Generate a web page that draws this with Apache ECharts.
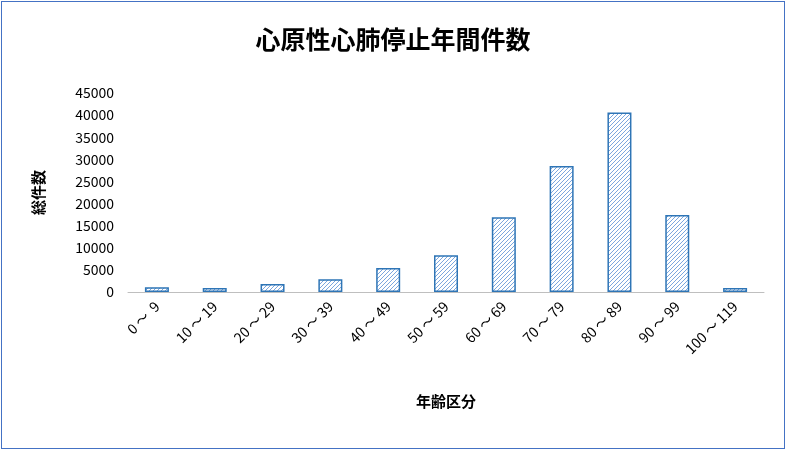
<!DOCTYPE html>
<html><head><meta charset="utf-8">
<script src="https://cdn.jsdelivr.net/npm/echarts@6/dist/echarts.min.js"></script>
<style>
html,body{margin:0;padding:0;background:#fff;}
#wrap{position:absolute;left:1px;top:1px;width:784px;height:448px;border:1px solid #4472c4;box-sizing:border-box;}
#c{width:786px;height:450px;position:absolute;left:0;top:0;}
</style></head><body>
<div id="wrap"></div>
<div id="c"></div>
<script>
const categories = ['0～ 9','10～19','20～29','30～39','40～49','50～59','60～69','70～79','80～89','90～99','100～119'];
const values = [1100, 900, 1800, 2900, 5400, 8300, 16900, 28500, 40600, 17400, 900];

const cv = document.createElement('canvas');
cv.width = 4; cv.height = 4;
const ctx = cv.getContext('2d');
ctx.fillStyle = '#fff'; ctx.fillRect(0,0,4,4);
ctx.strokeStyle = '#5b8fd6'; ctx.lineWidth = 0.8;
ctx.beginPath(); ctx.moveTo(0,4); ctx.lineTo(4,0); ctx.moveTo(-1,1); ctx.lineTo(1,-1); ctx.moveTo(3,5); ctx.lineTo(5,3); ctx.stroke();

const font = '"Noto Sans CJK JP", sans-serif';
const chart = echarts.init(document.getElementById('c'));
chart.setOption({
  animation:false,
  title:{text:'心原性心肺停止年間件数', left:'center', top:22,
    textStyle:{fontFamily:font, fontSize:25, fontWeight:'bold', color:'#000'}},
  grid:{left:128, right:22, top:93, bottom:158},
  xAxis:{type:'category', data:categories, name:'年齢区分', nameLocation:'middle', nameGap:102,
    nameTextStyle:{fontFamily:font, fontSize:15, fontWeight:'bold', color:'#000'},
    axisLine:{lineStyle:{color:'#bfbfbf'}}, axisTick:{show:false},
    axisLabel:{rotate:45, interval:0, fontFamily:font, fontSize:14, color:'#000', margin:12,
      formatter:v=>v.replace('～',' ～ ')}},
  yAxis:{type:'value', min:0, max:45000, interval:5000, name:'総件数', nameLocation:'middle', nameGap:82,
    nameRotate:90,
    nameTextStyle:{fontFamily:font, fontSize:15, fontWeight:'bold', color:'#000'},
    splitLine:{show:false}, axisLine:{show:false}, axisTick:{show:false},
    axisLabel:{fontFamily:font, fontSize:14, color:'#000', margin:14, formatter:v=>String(v)}},
  series:[{type:'bar', data:values, barWidth:24,
    itemStyle:{color:{image:cv, repeat:'repeat'}, borderColor:'#2e75b6', borderWidth:1.5}}]
});
</script></body></html>
